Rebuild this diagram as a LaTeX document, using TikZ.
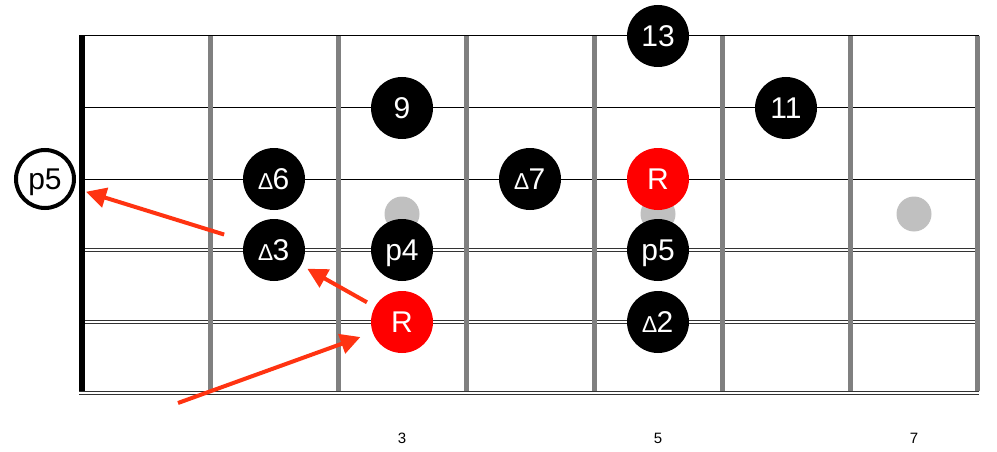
\documentclass[tikz,border=0pt]{standalone}
\usepackage{fontspec}
\setmainfont{Liberation Sans}
\usetikzlibrary{arrows.meta}
\definecolor{arrowred}{RGB}{255,51,17}
\definecolor{fretgray}{RGB}{128,128,128}
\definecolor{inlaygray}{RGB}{192,192,192}
\newcommand{\majsym}{{\fontsize{23}{23}\selectfont ∆}}
\begin{document}
\begin{tikzpicture}[x=1pt, y=-1pt,
  note/.style={circle, fill=black, text=white, minimum size=62pt, inner sep=0pt, text depth=0pt, font=\fontsize{30}{30}\selectfont},
  root/.style={note, fill=red},
  open/.style={circle, draw=black, line width=4pt, fill=white, minimum size=58pt, inner sep=0pt, text depth=0pt, font=\fontsize{30}{30}\selectfont},
  plain/.style={draw=black, line width=1pt},
  wound/.style={draw=black!80, double=white, double distance=1.6pt, line width=1pt},
  fret/.style={draw=fretgray, line width=5pt},
  inlay/.style={circle, fill=inlaygray, minimum size=35pt, inner sep=0pt},
  fretnum/.style={font=\fontsize{15}{15}\selectfont},
  hint/.style={draw=arrowred, line width=4pt, -{Triangle[length=20pt, width=20pt]}}]
\useasboundingbox (0,0) rectangle (997,452);
% strings
\draw [plain] (79,36)  -- (979,36);
\draw [plain] (79,108) -- (979,108);
\draw [plain] (79,179) -- (979,179);
\draw [wound] (79,250) -- (979,250);
\draw [wound] (79,322) -- (979,322);
\draw [wound] (79,393) -- (979,393);
% frets and nut
\draw [fret] (210,36) -- (210,391);
\draw [fret] (338,36) -- (338,391);
\draw [fret] (466,36) -- (466,391);
\draw [fret] (594,36) -- (594,391);
\draw [fret] (722,36) -- (722,391);
\draw [fret] (850,36) -- (850,391);
\draw [fret] (977,36) -- (977,391);
\draw [draw=black, line width=6pt] (82,36) -- (82,391);
% inlays
\node at (402,214) (inlay3) [inlay] {};
\node at (658,214) (inlay5) [inlay] {};
\node at (914,214) (inlay7) [inlay] {};
\node at (402,438) (num3) [fretnum] {3};
\node at (658,438) (num5) [fretnum] {5};
\node at (914,438) (num7) [fretnum] {7};
% notes
\node at (45,179)  (openV)   [open] {p5};
\node at (658,36)  (thirteen) [note] {13};
\node at (402,108) (nine)    [note] {9};
\node at (786,108) (eleven)  [note] {11};
\node at (274,179) (majVI)   [note] {\majsym6};
\node at (530,179) (majVII)  [note] {\majsym7};
\node at (658,179) (rootA)   [root] {R};
\node at (274,250) (majIII)  [note] {\majsym3};
\node at (402,250) (fourth)  [note] {p4};
\node at (658,250) (fifth)   [note] {p5};
\node at (402,322) (rootB)   [root] {R};
\node at (658,322) (majII)   [note] {\majsym2};
\coordinate (start) at (178,403);
\draw [hint, shorten <=21pt, shorten >=12pt] (majIII) -- (openV);
\draw [hint, shorten <=9pt, shorten >=7pt] (rootB) -- (majIII);
\draw [hint, shorten >=13pt] (start) -- (rootB);
\end{tikzpicture}
\end{document}
